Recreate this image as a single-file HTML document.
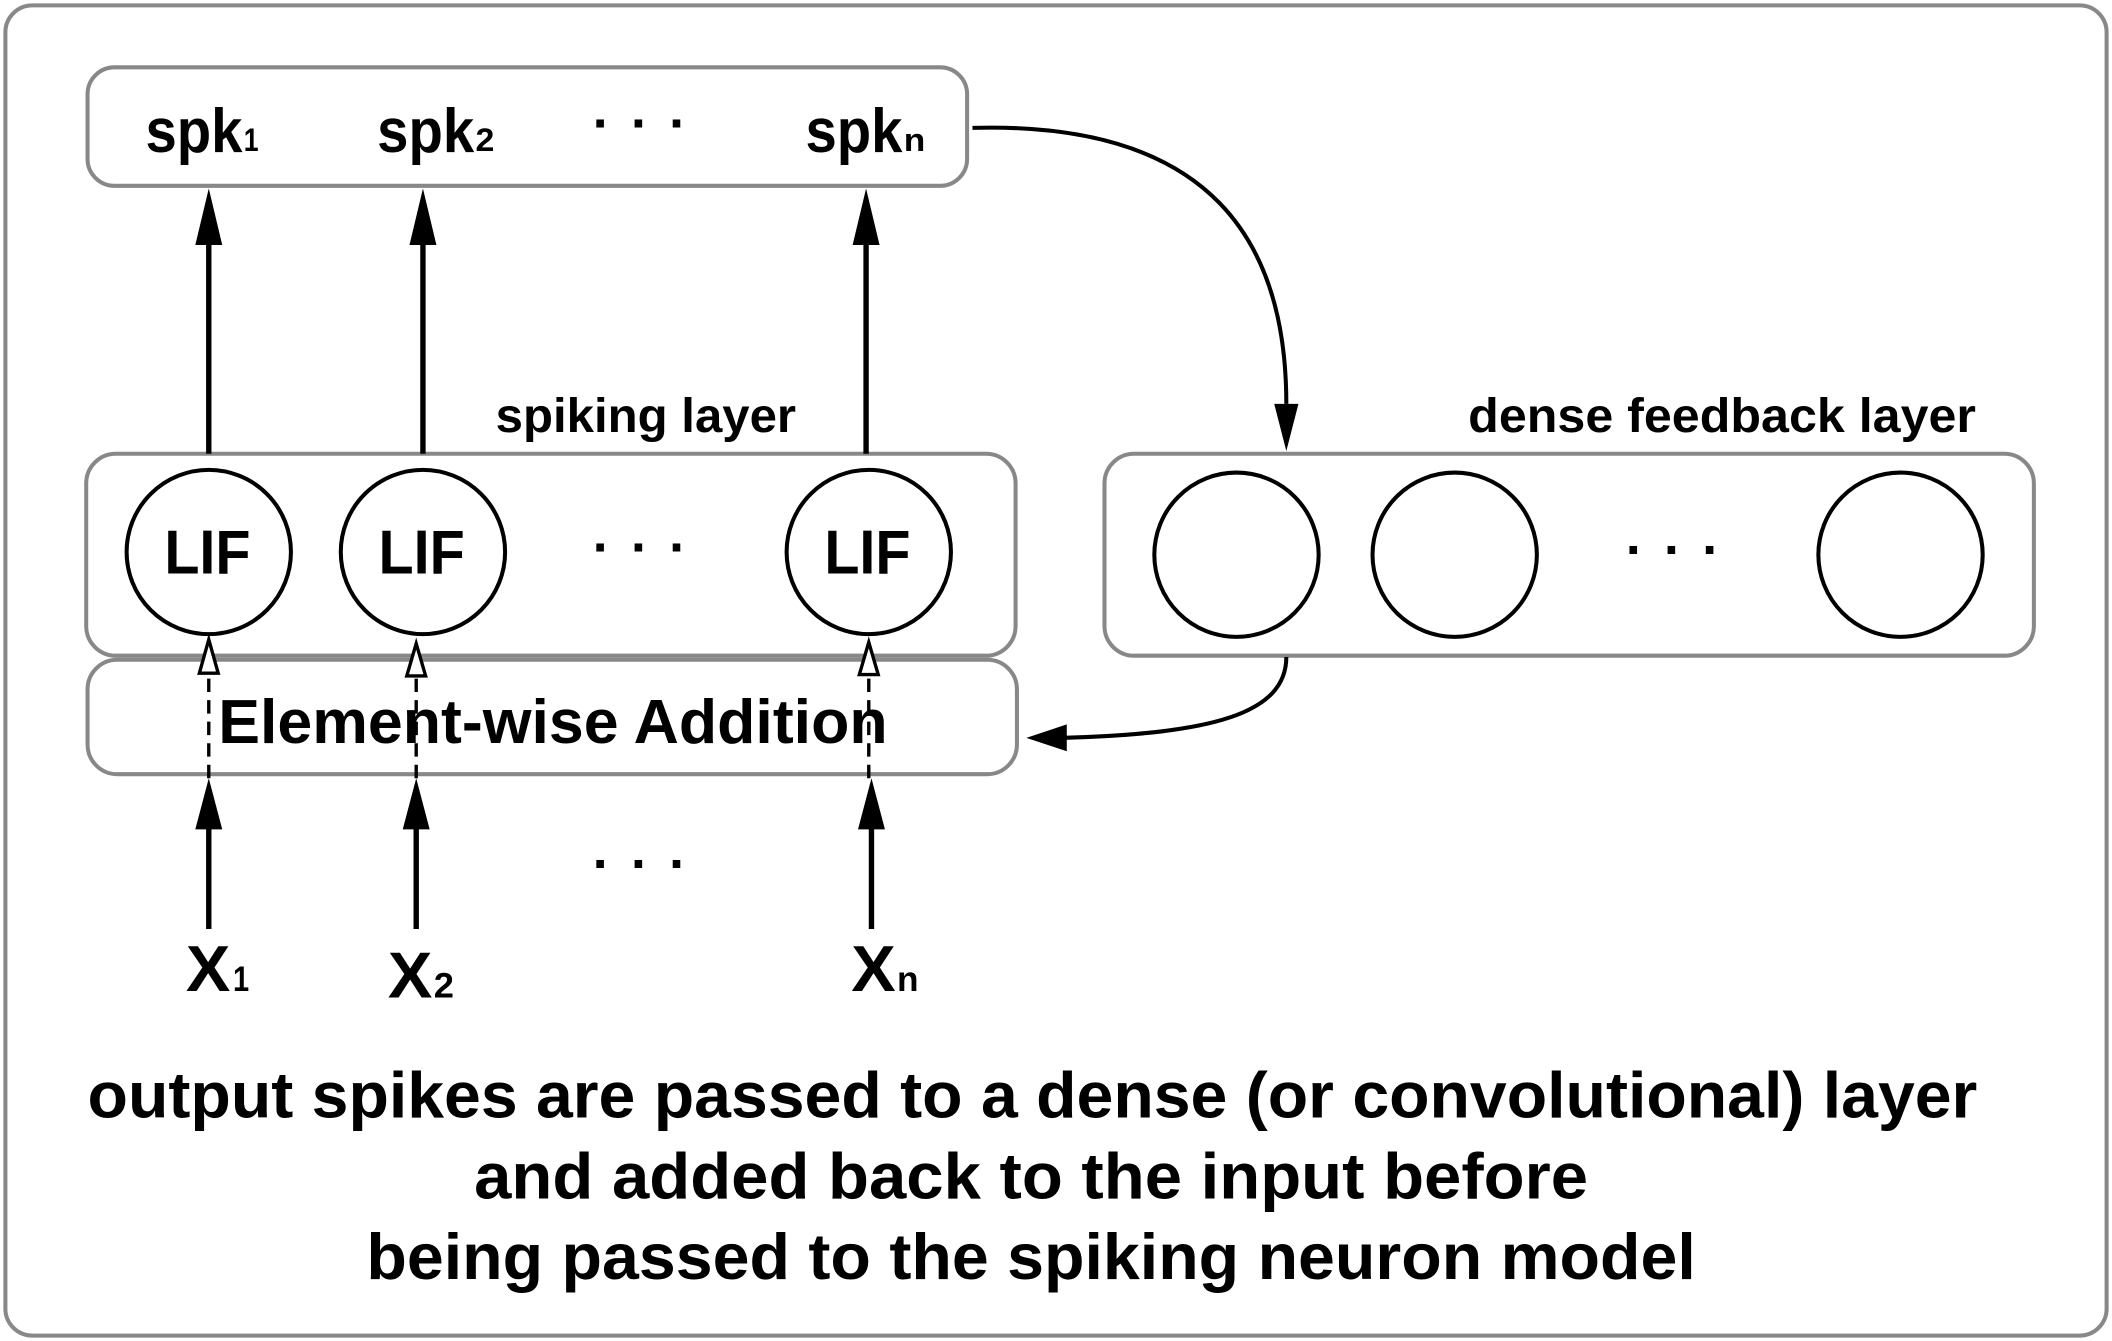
<!DOCTYPE html>
<html><head><meta charset="utf-8"><style>
html,body{margin:0;padding:0;background:#fff}
svg{display:block}
text{font-family:"Liberation Sans",Arial,sans-serif;font-weight:bold;fill:#000}
</style></head><body>
<svg width="2112" height="1341" viewBox="0 0 1568 996" preserveAspectRatio="none" xmlns="http://www.w3.org/2000/svg">
<rect x="4" y="4" width="1560" height="988" rx="20" fill="none" stroke="#888" stroke-width="3"/>
<rect x="65" y="50" width="653" height="88" rx="20" fill="none" stroke="#888" stroke-width="3"/>
<rect x="64" y="337" width="690" height="150" rx="22" fill="none" stroke="#888" stroke-width="3"/>
<rect x="65" y="490" width="690" height="85" rx="22" fill="none" stroke="#888" stroke-width="3"/>
<rect x="820" y="337" width="690" height="150" rx="22" fill="none" stroke="#888" stroke-width="3"/>
<g fill="none" stroke="#000" stroke-width="3">
<circle cx="155" cy="410" r="61"/><circle cx="314" cy="410" r="61"/><circle cx="645" cy="410" r="61"/>
<circle cx="918" cy="412" r="61"/><circle cx="1080" cy="412" r="61"/><circle cx="1411" cy="412" r="61"/>
</g>
<text x="108" y="113" font-size="46" textLength="72" lengthAdjust="spacingAndGlyphs">spk</text><text x="181" y="112" font-size="24" textLength="11" lengthAdjust="spacingAndGlyphs">1</text>
<text x="280" y="113" font-size="46" textLength="72" lengthAdjust="spacingAndGlyphs">spk</text><text x="353" y="112" font-size="24" textLength="14" lengthAdjust="spacingAndGlyphs">2</text>
<text x="598" y="113" font-size="46" textLength="72" lengthAdjust="spacingAndGlyphs">spk</text><text x="671" y="112" font-size="24" textLength="16" lengthAdjust="spacingAndGlyphs">n</text>
<text x="440" y="105" font-size="40" textLength="70">· · ·</text>
<text x="122" y="426" font-size="46" textLength="64" lengthAdjust="spacingAndGlyphs">LIF</text>
<text x="281" y="426" font-size="46" textLength="64" lengthAdjust="spacingAndGlyphs">LIF</text>
<text x="612" y="426" font-size="46" textLength="64" lengthAdjust="spacingAndGlyphs">LIF</text>
<text x="440" y="420" font-size="40" textLength="70">· · ·</text>
<text x="1207" y="422" font-size="40" textLength="70">· · ·</text>
<text x="440" y="655" font-size="40" textLength="70">· · ·</text>
<text x="368" y="321" font-size="36" textLength="223" lengthAdjust="spacingAndGlyphs">spiking layer</text>
<text x="1090" y="321" font-size="36" textLength="377" lengthAdjust="spacingAndGlyphs">dense feedback layer</text>
<text x="162" y="552" font-size="46" textLength="497" lengthAdjust="spacingAndGlyphs">Element-wise Addition</text>
<text x="138" y="736" font-size="48" textLength="33" lengthAdjust="spacingAndGlyphs">X</text><text x="173" y="736" font-size="26" textLength="12" lengthAdjust="spacingAndGlyphs">1</text>
<text x="288" y="741" font-size="48" textLength="33" lengthAdjust="spacingAndGlyphs">X</text><text x="322" y="741" font-size="26" textLength="15" lengthAdjust="spacingAndGlyphs">2</text>
<text x="632" y="736" font-size="48" textLength="33" lengthAdjust="spacingAndGlyphs">X</text><text x="666" y="736" font-size="26" textLength="16" lengthAdjust="spacingAndGlyphs">n</text>
<text x="65" y="830" font-size="48" textLength="1403" lengthAdjust="spacingAndGlyphs">output spikes are passed to a dense (or convolutional) layer</text>
<text x="352" y="890" font-size="48" textLength="827" lengthAdjust="spacingAndGlyphs">and added back to the input before</text>
<text x="272" y="950" font-size="48" textLength="987" lengthAdjust="spacingAndGlyphs">being passed to the spiking neuron model</text>
<g stroke="#000" stroke-width="4" fill="none">
<line x1="155" y1="337" x2="155" y2="175"/>
<line x1="314" y1="337" x2="314" y2="175"/>
<line x1="643" y1="337" x2="643" y2="175"/>
<line x1="155" y1="690" x2="155" y2="610"/>
<line x1="309" y1="690" x2="309" y2="610"/>
<line x1="647" y1="690" x2="647" y2="610"/>
</g>
<g fill="#000">
<path d="M155,140 L145,182 L165,182 Z"/>
<path d="M314,140 L304,182 L324,182 Z"/>
<path d="M643,140 L633,182 L653,182 Z"/>
<path d="M155,578 L145,616 L165,616 Z"/>
<path d="M309,578 L299,616 L319,616 Z"/>
<path d="M647,578 L637,616 L657,616 Z"/>
</g>
<g stroke="#000" stroke-width="2.5" fill="none">
<line x1="155" y1="578" x2="155" y2="500" stroke-dasharray="10,6"/>
<line x1="309" y1="578" x2="309" y2="500" stroke-dasharray="10,6"/>
<line x1="645" y1="578" x2="645" y2="500" stroke-dasharray="10,6"/>
<path d="M155,475 L148,500 L162,500 Z" fill="#fff"/>
<path d="M309,478 L302,502 L316,502 Z" fill="#fff"/>
<path d="M645,477 L638,501 L652,501 Z" fill="#fff"/>
<path d="M722,95 C900,90 955,180 955,300" stroke-width="3"/>
<path d="M955,488 C955,530 900,545 790,548" stroke-width="3"/>
</g>
<path d="M955,335 L946,300 L964,300 Z" fill="#000"/>
<path d="M762,548 L792,538 L792,558 Z" fill="#000"/>
</svg>
</body></html>
